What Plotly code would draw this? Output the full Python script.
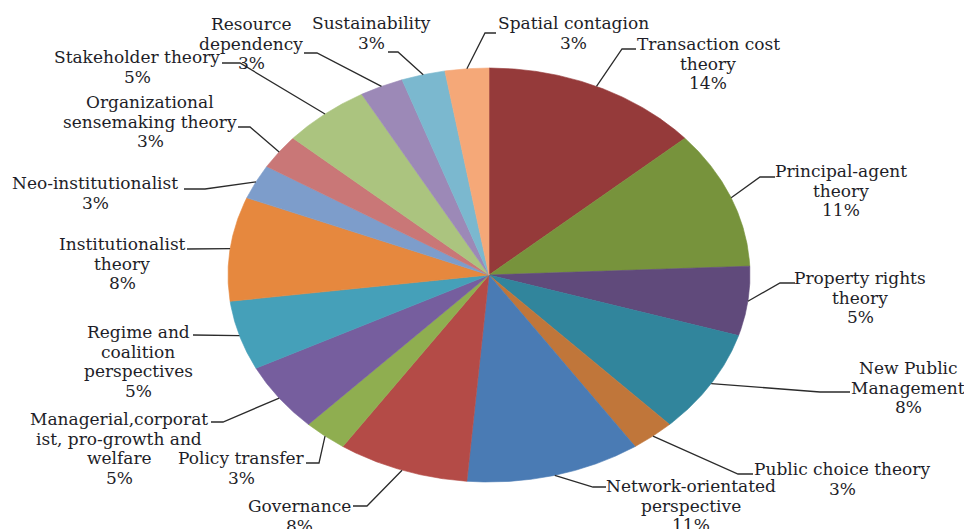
import numpy as np
import plotly.graph_objects as go

# ---- data (counts of studies, clockwise from 12 o'clock) ----
labels = [
    "Transaction cost<br>theory",
    "Principal-agent<br>theory",
    "Property rights<br>theory",
    "New Public<br>Management",
    "Public choice theory",
    "Network-orientated<br>perspective",
    "Governance",
    "Policy transfer",
    "Managerial,corporat<br>ist, pro-growth and<br>welfare",
    "Regime and<br>coalition<br>perspectives",
    "Institutionalist<br>theory",
    "Neo-institutionalist",
    "Organizational<br>sensemaking theory",
    "Stakeholder theory",
    "Resource<br>dependency",
    "Sustainability",
    "Spatial contagion",
]
counts = [5, 4, 2, 3, 1, 4, 3, 1, 2, 2, 3, 1, 1, 2, 1, 1, 1]
colors = [
    "#953A3A", "#77933C", "#604A7B", "#31859C", "#C0763A", "#4A7BB4",
    "#B44B47", "#8FAE50", "#765E9E", "#45A0B9", "#E6883E", "#7D9DCB",
    "#C97777", "#ABC47F", "#9C89B7", "#7BB8CF", "#F5A878",
]

# ---- layout helpers (pixel geometry of the figure) ----
W, H = 964, 529
CX, CY, RX, RY = 489, 275, 261, 207


def px2x(px):
    return (px - CX) / RX


def px2y(py):
    return (CY - py) / RY


# label centres (pixel x, y of first line) and leader bends/ends (pixels)
label_pos = [
    (708, 44), (841, 171), (860, 278), (908, 368), (842, 469), (691, 486),
    (299, 506), (241, 458), (119, 419), (138, 332), (122, 244), (95, 183),
    (150, 102), (137, 57), (251, 24), (371, 23), (573, 23),
]
leader_pts = [
    [(622, 49), (636, 49)],
    [(760, 177), (775, 177)],
    [(780, 283), (795, 283)],
    [(820, 392), (850, 392)],
    [(738, 474), (753, 474)],
    [(593, 487), (606, 487)],
    [(367, 506), (353, 506)],
    [(319, 463), (306, 463)],
    [(223, 422), (211, 422)],
    [(215, 335), (193, 335)],
    [(205, 249), (187, 249)],
    [(205, 189), (184, 189)],
    [(250, 127), (238, 127)],
    [(240, 63), (222, 63)],
    [(317, 53), (304, 53)],
    [(398, 52), (388, 52)],
    [(485, 33), (496, 33)],
]
LINE_H = 19.6
FONT = dict(family="DejaVu Serif", size=17, color="#1e1e28")

fig = go.Figure()

total = sum(counts)
cum = np.concatenate([[0], np.cumsum(counts)]) / total * 2 * np.pi

for i, (lab, c, col) in enumerate(zip(labels, counts, colors)):
    a0, a1 = cum[i], cum[i + 1]
    th = np.linspace(a0, a1, max(8, int(c * 40)))
    xs = np.concatenate([[0], np.sin(th), [0]])
    ys = np.concatenate([[0], np.cos(th), [0]])
    fig.add_trace(go.Scatter(
        x=xs, y=ys, mode="lines", fill="toself", fillcolor=col,
        line=dict(width=0.6, color=col), hoverinfo="skip", showlegend=False,
    ))

annotations = []
for i, (lab, c) in enumerate(zip(labels, counts)):
    mid = (cum[i] + cum[i + 1]) / 2
    ex, ey = np.sin(mid), np.cos(mid)
    lx = [ex] + [px2x(p[0]) for p in leader_pts[i]]
    ly = [ey] + [px2y(p[1]) for p in leader_pts[i]]
    fig.add_trace(go.Scatter(
        x=lx, y=ly, mode="lines", line=dict(color="#2b2b2b", width=1.3),
        hoverinfo="skip", showlegend=False,
    ))
    pct = f"{round(c / total * 100)}%"
    lines = lab.split("<br>") + [pct]
    px, py = label_pos[i]
    for k, t in enumerate(lines):
        annotations.append(dict(
            x=px2x(px), y=px2y(py + k * LINE_H), xref="x", yref="y",
            text=t, showarrow=False, xanchor="center", yanchor="middle",
            font=FONT,
        ))

fig.update_layout(
    width=W, height=H, autosize=False,
    margin=dict(l=0, r=0, t=0, b=0),
    paper_bgcolor="white", plot_bgcolor="white",
    xaxis=dict(range=[px2x(0), px2x(W)], visible=False, fixedrange=True),
    yaxis=dict(range=[px2y(H), px2y(0)], visible=False, fixedrange=True),
    annotations=annotations,
    showlegend=False,
)

fig.write_html("out.html")
